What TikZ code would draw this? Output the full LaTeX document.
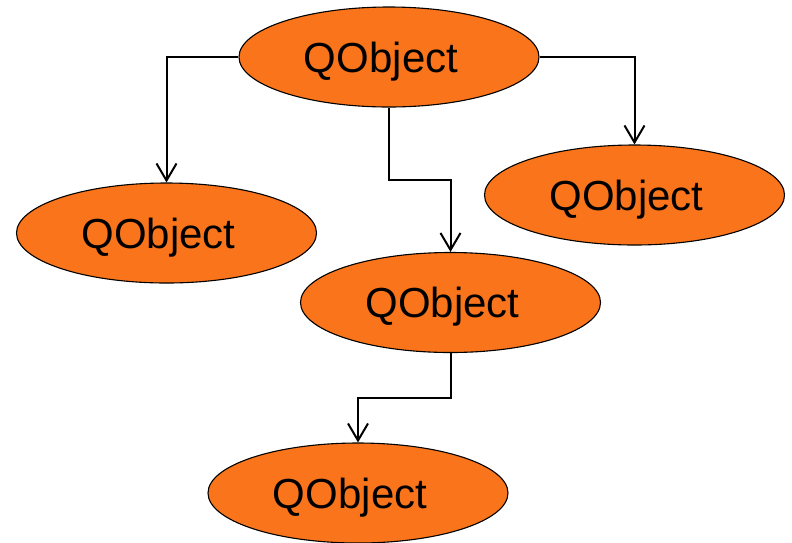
\documentclass[tikz,border=0pt]{standalone}
\usepackage{fontspec}
\setmainfont{Liberation Sans}
\usetikzlibrary{shapes.geometric,arrows.meta}
\definecolor{qorange}{RGB}{249,116,26}
\tikzset{
  qobj/.style={ellipse, draw=black, line width=1.1pt, fill=qorange, minimum width=300pt, minimum height=100pt, inner sep=0pt, font=\fontsize{42}{42}\selectfont, text height=30pt, text depth=0pt},
  link/.style={draw=black, line width=2pt, -{Straight Barb[length=17pt,width=20pt,line width=2pt]}}
}
\begin{document}
\begin{tikzpicture}[x=1pt,y=-1pt]
\useasboundingbox (0,0) rectangle (792,542);
\node[qobj] (top) at (389,57) {QObject\kern16pt};
\node[qobj] (left) at (166.5,233) {QObject\kern16pt};
\node[qobj] (right) at (634.5,195) {QObject\kern16pt};
\node[qobj] (mid) at (450.5,302.5) {QObject\kern16pt};
\node[qobj] (bot) at (358,493) {QObject\kern16pt};
\coordinate (c1) at (420,180);
\coordinate (c2) at (400,398);
\draw[link] (top.west) -| (left.north);
\draw[link] (top.east) -| (right.north);
\draw[link] (top.south) |- (c1) -| (mid.north);
\draw[link] (mid.south) |- (c2) -| (bot.north);
\end{tikzpicture}
\end{document}
